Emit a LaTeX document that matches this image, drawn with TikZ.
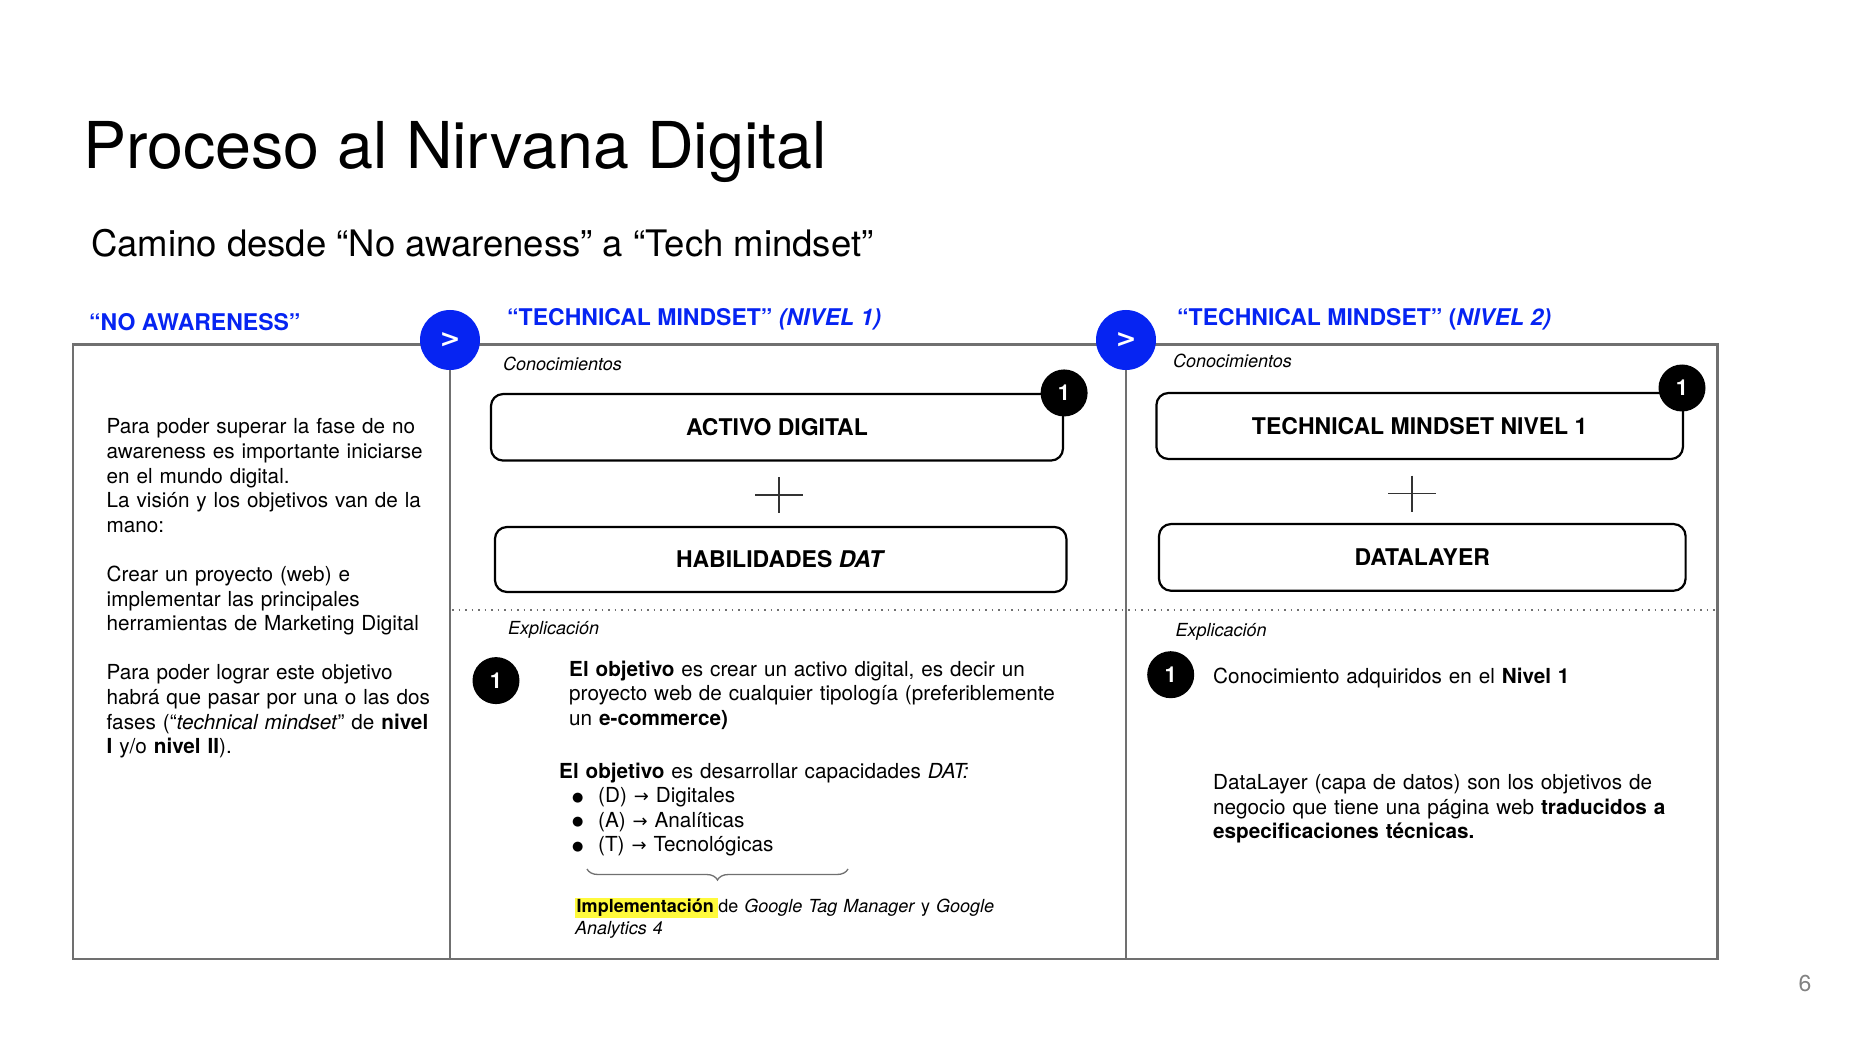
\documentclass[tikz,border=0pt]{standalone}
\usepackage{fontspec}
\setmainfont{TeX Gyre Heros}
\newfontfamily\symbolfont{DejaVu Sans}
\usetikzlibrary{decorations.pathreplacing}

\definecolor{accentblue}{RGB}{6,36,242}
\definecolor{framegray}{RGB}{112,112,112}
\definecolor{markyellow}{RGB}{255,250,60}
\definecolor{pagegray}{RGB}{130,130,130}

\newcommand{\bodysize}{\fontsize{20.7}{24.6}\selectfont}
\newcommand{\bul}{\hspace*{13pt}\makebox[26pt][l]{\raisebox{1.5pt}{\symbolfont\fontsize{13}{13}\selectfont ●}}}
\newcommand{\arr}{{\symbolfont\fontsize{18}{18}\selectfont →}}
\newcommand{\hilite}[1]{{\setlength{\fboxsep}{1.5pt}\colorbox{markyellow}{#1}}}

\tikzset{
  txt/.style={inner sep=0pt, anchor=base west, align=left},
  bodytext/.style={txt, font=\bodysize, text width=620pt},
  heading/.style={txt, font=\fontsize{23}{27}\selectfont\bfseries, text=accentblue},
  note/.style={txt, font=\fontsize{18}{21.5}\selectfont\itshape},
  card/.style={draw=black, line width=2.2pt, rounded corners=12pt, inner sep=0pt,
               font=\fontsize{23}{27}\selectfont\bfseries},
  badge/.style={circle, fill=black, text=white, inner sep=0pt, minimum size=47pt,
                font=\fontsize{22}{22}\selectfont\bfseries},
  nextbtn/.style={circle, fill=accentblue, text=white, inner sep=0pt, minimum size=60pt,
                  font=\symbolfont\fontsize{25}{25}\selectfont\bfseries},
  frameline/.style={draw=framegray, line width=2.5pt},
  plusbar/.style={draw=black!80, line width=1.6pt},
  sepline/.style={draw=framegray, line width=1.6pt, dash pattern=on 1.6pt off 4.9pt},
}

\begin{document}
\begin{tikzpicture}[x=1pt, y=-1pt]
  \useasboundingbox[fill=white] (0,0) rectangle (1856,1040);

  % titles
  \node[txt, font=\fontsize{64.6}{70}\selectfont] (title) at (83,169) {Proceso al Nirvana Digital};
  \node[txt, font=\fontsize{36.5}{42}\selectfont] (subtitle) at (91,257) {Camino desde “No awareness” a “Tech mindset”};

  % column headings
  \node[heading] (h1) at (89,331) {“NO AWARENESS”};
  \node[heading] (h2) at (507,326) {“TECHNICAL MINDSET” \textit{(NIVEL 1)}};
  \node[heading] (h3) at (1177,326) {“TECHNICAL MINDSET” (\textit{NIVEL 2)}};

  % frame and column dividers
  \coordinate (ftl) at (73,344.5);
  \coordinate (fbr) at (1717.5,959);
  \coordinate (d1t) at (450,344.5);
  \coordinate (d1b) at (450,959);
  \coordinate (d2t) at (1126,344.5);
  \coordinate (d2b) at (1126,959);
  \draw[frameline] (ftl) rectangle (fbr);
  \draw[frameline] (d1t) -- (d1b);
  \draw[frameline] (d2t) -- (d2b);

  % dotted separator between knowledge and explanation
  \coordinate (sepL) at (452,610);
  \coordinate (sepR) at (1715,610);
  \draw[sepline] (sepL) -- (sepR);

  % step buttons
  \node[nextbtn] (next1) at (450,340) {>};
  \node[nextbtn] (next2) at (1126,340) {>};

  % column 1
  \node[bodytext] (intro) at (106.5,434) {Para poder superar la fase de no\\
    awareness es importante iniciarse\\
    en el mundo digital.\\
    La visión y los objetivos van de la\\
    mano:\\[24.6pt]
    Crear un proyecto (web) e\\
    implementar las principales\\
    herramientas de Marketing Digital\\[24.6pt]
    Para poder lograr este objetivo\\
    habrá que pasar por una o las dos\\
    fases (“\textit{technical mindset}” de \textbf{nivel}\\
    \textbf{I} y/o \textbf{nivel II}).};

  % column 2: knowledge
  \node[note] (con1) at (503,370.5) {Conocimientos};
  \node[card, minimum width=572pt, minimum height=66.5pt] (activo) at (777,427.3) {ACTIVO DIGITAL};
  \node[badge] (b1) at (activo.north east) {1};
  \coordinate (plus1) at (779,495);
  \draw[plusbar] (plus1) ++(-24,0) -- ++(48,0);
  \draw[plusbar] (plus1) ++(0,-18) -- ++(0,36);
  \node[card, minimum width=571.5pt, minimum height=65pt] (habil) at (780.7,559.5) {HABILIDADES \textit{DAT}};

  % column 2: explanation
  \node[note] (exp1) at (508,634) {Explicación};
  \node[badge] (e1) at (496,680.6) {1};
  \node[bodytext] (obj1) at (569,676) {\textbf{El objetivo} es crear un activo digital, es decir un\\
    proyecto web de cualquier tipología (preferiblemente\\
    un \textbf{e-commerce)}};
  \node[bodytext] (obj2) at (559,778) {\textbf{El objetivo} es desarrollar capacidades \textit{DAT:}\\
    \bul(D) \arr{} Digitales\\
    \bul(A) \arr{} Analíticas\\
    \bul(T) \arr{} Tecnológicas};
  \coordinate (braceL) at (587,869);
  \coordinate (braceR) at (848,869);
  \draw[draw=framegray, line width=1.3pt, decorate, decoration={brace, mirror, amplitude=11pt}] (braceL) -- (braceR);
  \node[txt, font=\fontsize{18}{21.5}\selectfont, text width=500pt] (impl) at (575,912.6)
    {\hilite{\textbf{Implementación}\hspace{3pt}}de \textit{Google Tag Manager} y \textit{Google}\\
     \textit{Analytics 4}};

  % column 3: knowledge
  \node[note] (con2) at (1173,368) {Conocimientos};
  \node[card, minimum width=526.5pt, minimum height=66pt] (tm1) at (1419.7,426) {TECHNICAL MINDSET NIVEL 1};
  \node[badge] (b2) at (1682,388) {1};
  \coordinate (plus2) at (1412,493.6);
  \draw[plusbar] (plus2) ++(-24,0) -- ++(48,0);
  \draw[plusbar] (plus2) ++(0,-18) -- ++(0,36);
  \node[card, minimum width=526.6pt, minimum height=66.7pt] (dl) at (1422.3,557.4) {DATALAYER};

  % column 3: explanation
  \node[note] (exp2) at (1175.5,636) {Explicación};
  \node[badge] (e2) at (1170.7,674.7) {1};
  \node[bodytext] (lvl) at (1213,683) {Conocimiento adquiridos en el \textbf{Nivel 1}};
  \node[bodytext] (dldef) at (1213,789.5) {DataLayer (capa de datos) son los objetivos de\\
    negocio que tiene una página web \textbf{traducidos a}\\
    \textbf{especificaciones técnicas.}};

  % page number
  \node[font=\fontsize{23}{23}\selectfont, text=pagegray, inner sep=0pt] (pagenum) at (1805,984) {6};
\end{tikzpicture}
\end{document}
